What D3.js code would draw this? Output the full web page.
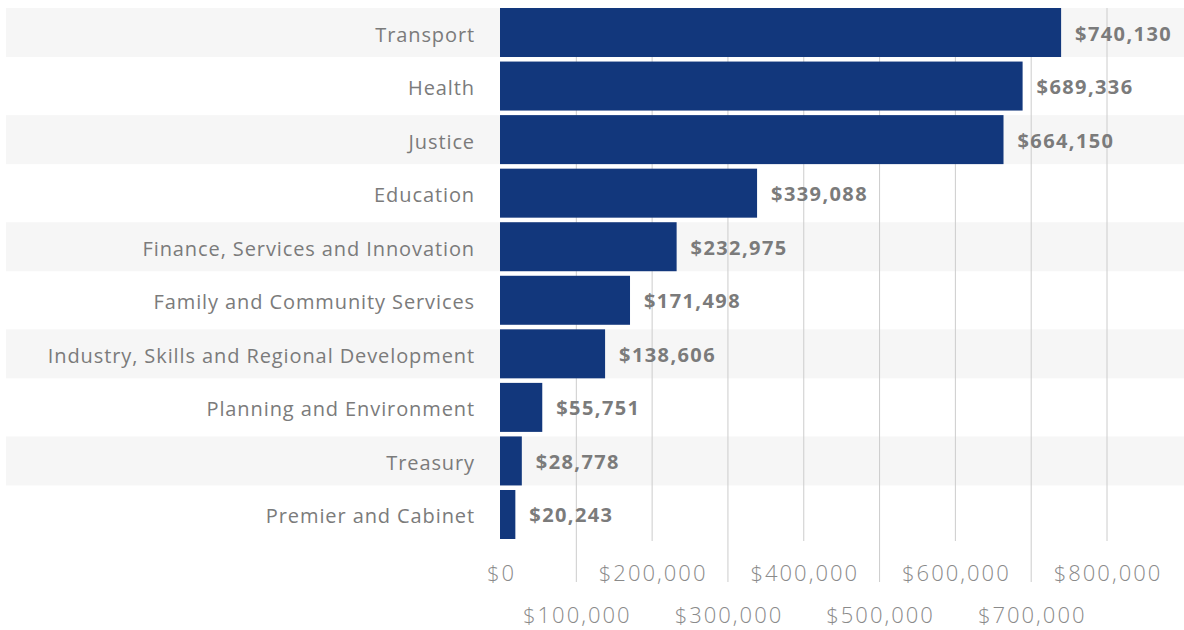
<!DOCTYPE html>
<html>
<head>
<meta charset="utf-8">
<script src="https://cdn.jsdelivr.net/npm/d3@7"></script>
<style>
  body { margin: 0; background: #fff; }
  svg { display: block; }
  svg text { font-family: "Open Sans", sans-serif; }
</style>
</head>
<body>
<div id="chart"></div>
<script>
// department spend values
const departments = ["Transport", "Health", "Justice", "Education", "Finance, Services and Innovation",
    "Family and Community Services", "Industry, Skills and Regional Development",
    "Planning and Environment", "Treasury", "Premier and Cabinet"];
const amounts = [740130, 689336, 664150, 339088, 232975, 171498, 138606, 55751, 28778, 20243];
const tickValues = [0, 100000, 200000, 300000, 400000, 500000, 600000, 700000, 800000];

const width = 1184, height = 630;
const data = departments.map((d, i) => ({dept: d, value: amounts[i]}));
const money = d3.format("$,");

let svg = d3.select("#chart")
    .append("svg")
    .attr("width", width)
    .attr("height", height);

let x = d3.scaleLinear()
    .domain([0, 800000])
    .range([500, 1106.5]);

let y = d3.scaleBand()
    .domain(departments)
    .range([8, 539])
    .paddingInner(0.085)
    .paddingOuter(0);

// striped row backgrounds
svg.append("g").selectAll("rect")
    .data(data.filter((d, i) => i % 2 == 0))
    .enter()
    .append("rect")
    .attr("x", 6)
    .attr("y", d => y(d.dept))
    .attr("width", width - 6)
    .attr("height", y.bandwidth())
    .attr("fill", "#f6f6f6");

// vertical grid, odd ticks run longer down to the second label row
svg.append("g").selectAll("line")
    .data(tickValues.slice(1))
    .enter()
    .append("line")
    .attr("x1", d => x(d) + 0.5)
    .attr("x2", d => x(d) + 0.5)
    .attr("y1", 8)
    .attr("y2", (d, i) => i % 2 == 0 ? 582 : 541)
    .attr("stroke", "#cccccc")
    .attr("stroke-width", 1);

svg.append("g").selectAll("rect")
    .data(data)
    .enter()
    .append("rect")
    .attr("x", x(0))
    .attr("y", d => y(d.dept))
    .attr("width", d => x(d.value) - x(0))
    .attr("height", y.bandwidth())
    .attr("fill", "#12377c");

// category labels
let yAxis = svg.append("g")
    .attr("transform", "translate(475,0)")
    .call(d3.axisLeft(y).tickSize(0).tickPadding(0));
yAxis.attr("font-family", null);
yAxis.select(".domain").remove();
yAxis.selectAll("text")
    .attr("fill", "#7b7b7b")
    .attr("dy", "0.45em")
    .style("font-size", "20px")
    .style("letter-spacing", "0.9px");

// value labels
svg.append("g").selectAll("text")
    .data(data)
    .enter()
    .append("text")
    .attr("x", d => x(d.value) + 14)
    .attr("y", d => y(d.dept) + y.bandwidth() / 2)
    .attr("dy", "0.4em")
    .attr("fill", "#7b7b7b")
    .style("font-size", "20px")
    .style("font-weight", "bold")
    .style("letter-spacing", "1.4px")
    .text(d => money(d.value));

// x axis, staggered labels
let xAxis = svg.append("g")
    .attr("transform", "translate(0,560)")
    .call(d3.axisBottom(x).tickValues(tickValues).tickSize(0).tickFormat(money));
xAxis.attr("font-family", null);
xAxis.select(".domain").remove();
xAxis.selectAll("text")
    .attr("fill", "#8a8a8a")
    .attr("x", 1)
    .attr("y", (d, i) => i % 2 == 0 ? 21 : 63)
    .attr("dy", 0)
    .style("font-size", "22px")
    .style("font-weight", 300)
    .style("letter-spacing", "2px");
</script>
</body>
</html>
